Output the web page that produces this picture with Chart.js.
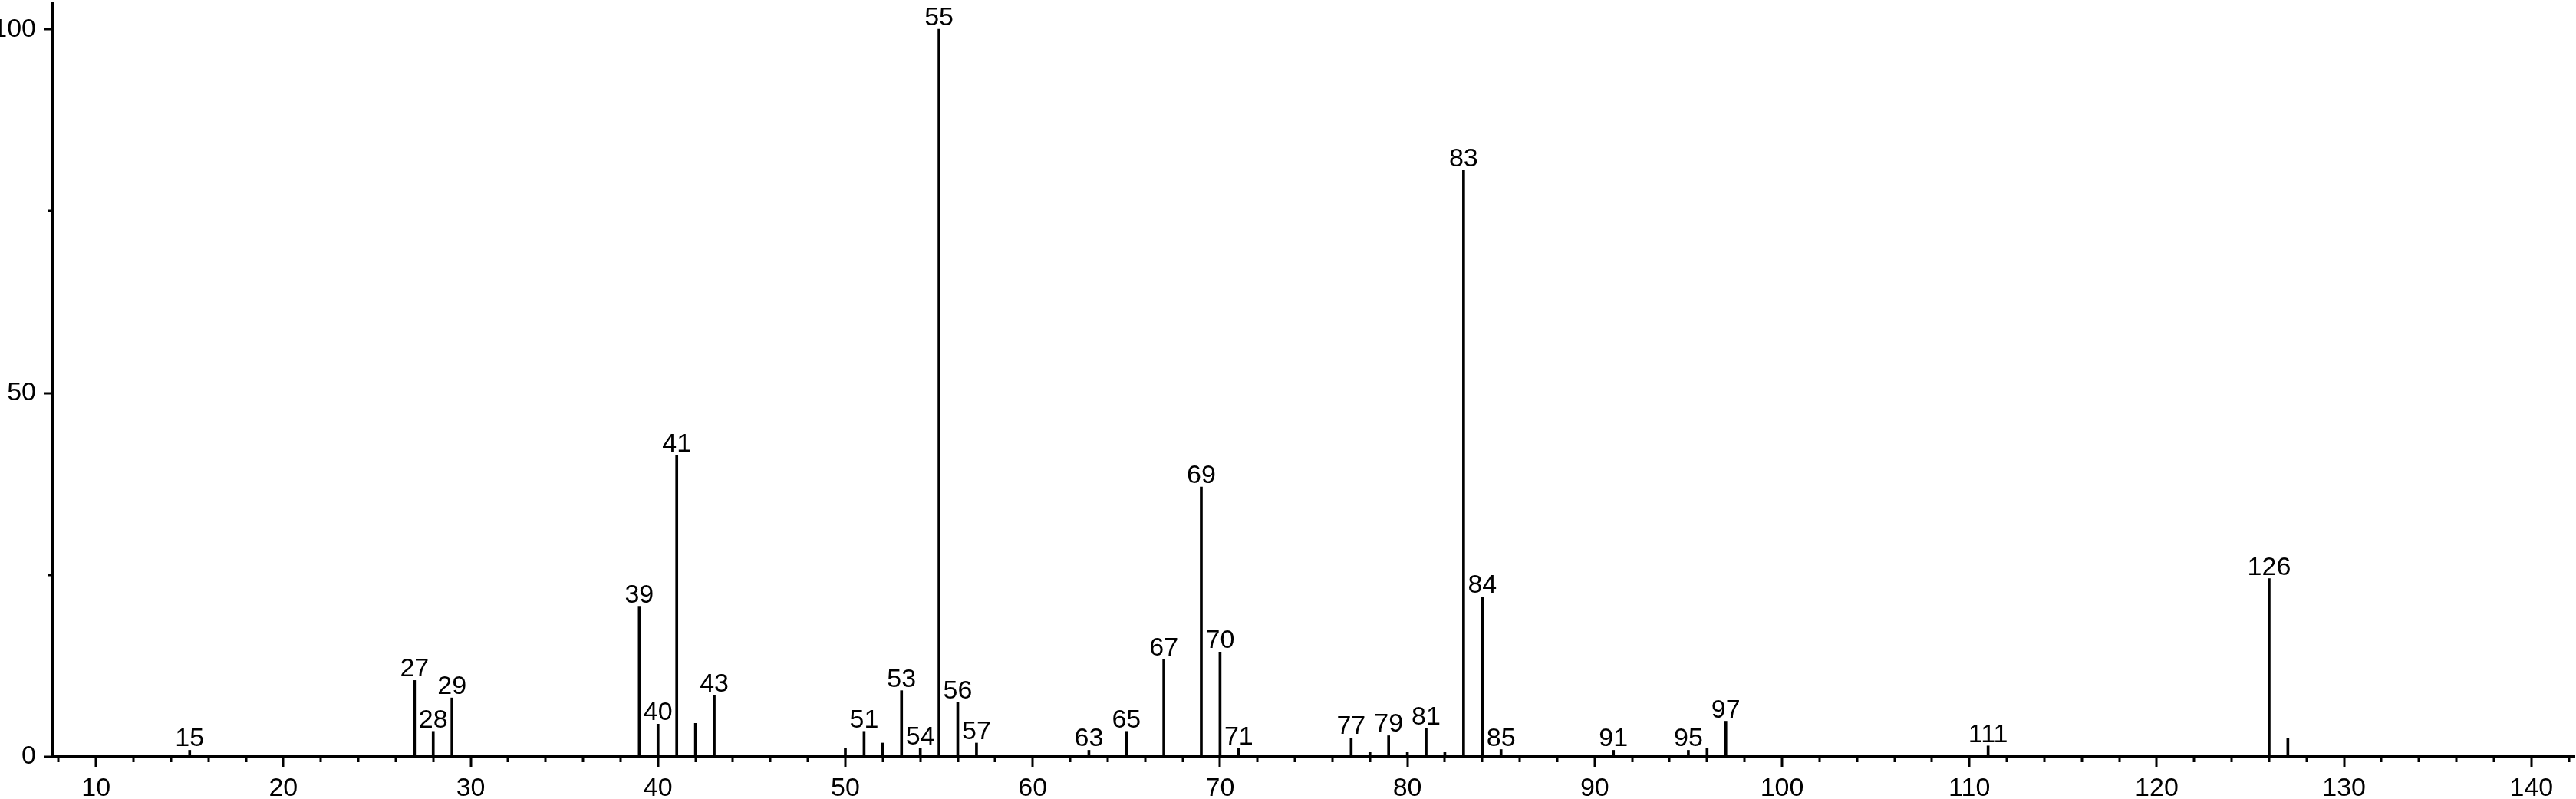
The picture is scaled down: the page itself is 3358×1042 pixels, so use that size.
<!DOCTYPE html>
<html>
<head>
<meta charset="utf-8">
<script src="https://cdn.jsdelivr.net/npm/chart.js@4"></script>
<style>
  html, body { margin: 0; padding: 0; background: #fff; }
  #wrap { width: 3358px; height: 1042px; }
</style>
</head>
<body>
<div id="wrap"><canvas id="msChart"></canvas></div>
<script>
// m/z values and relative intensities
var mzValues = [15, 27, 28, 29, 39, 40, 41, 42, 43, 50, 51, 52, 53, 54, 55, 56, 57,
                63, 65, 67, 69, 70, 71, 77, 78, 79, 80, 81, 82, 83, 84, 85,
                91, 95, 96, 97, 111, 126, 127];
var intensities = [0.9, 10.5, 3.5, 8.1, 20.7, 4.5, 41.4, 4.6, 8.4, 1.2, 3.5, 1.9, 9.1, 1.2, 100, 7.5, 1.9,
                   0.9, 3.5, 13.4, 37.1, 14.4, 1.2, 2.6, 0.6, 2.9, 0.6, 3.9, 0.6, 80.6, 22.0, 1.0,
                   0.9, 0.9, 1.2, 4.9, 1.5, 24.5, 2.5];
// peaks that carry a text label
var labeledPeaks = [15, 27, 28, 29, 39, 40, 41, 43, 51, 53, 54, 55, 56, 57, 63, 65, 67, 69, 70, 71,
                    77, 79, 81, 83, 84, 85, 91, 95, 97, 111, 126];
var xTickLabels = [10, 20, 30, 40, 50, 60, 70, 80, 90, 100, 110, 120, 130, 140];
var yTickLabels = [0, 50, 100];

var FONT = 'Liberation Sans, Arial, sans-serif';

// draws tick marks (major/minor) and the peak labels
var spectrumDecor = {
    id: 'spectrumDecor',
    afterDraw: function(chart) {
        var ctx = chart.ctx;
        var xs = chart.scales.x, ys = chart.scales.y;
        var area = chart.chartArea;
        ctx.save();
        ctx.strokeStyle = '#000';
        ctx.lineWidth = 3;
        ctx.beginPath();
        for (var v = 8; v <= 142; v += 2) {
            var px = Math.round(xs.getPixelForValue(v));
            var len = (v % 10 === 0) ? 13 : 7;
            ctx.moveTo(px, area.bottom);
            ctx.lineTo(px, area.bottom + len);
        }
        for (var t = 0; t <= 100; t += 25) {
            var py = Math.round(ys.getPixelForValue(t));
            var ylen = (t % 50 === 0) ? 12 : 6;
            ctx.moveTo(area.left, py);
            ctx.lineTo(area.left - ylen, py);
        }
        ctx.stroke();

        ctx.fillStyle = '#000';
        ctx.font = '34px ' + FONT;
        ctx.textAlign = 'center';
        ctx.textBaseline = 'alphabetic';
        labeledPeaks.forEach(function(mz) {
            var i = mzValues.indexOf(mz);
            var x = xs.getPixelForValue(mz);
            var y = ys.getPixelForValue(intensities[i]) - 5;
            ctx.fillText(String(mz), x, y);
        });
        ctx.restore();
    }
};

function noEdgePadding(scale) {
    scale.paddingTop = 0;
    scale.paddingBottom = 0;
    scale.paddingLeft = 0;
    scale.paddingRight = 0;
}

var ctx = document.getElementById('msChart').getContext('2d');
var msChart = new Chart(ctx, {
    type: 'bar',
    data: {
        datasets: [{
            data: mzValues.map(function(m, i) { return { x: m, y: intensities[i] }; }),
            backgroundColor: '#000',
            borderWidth: 0,
            barThickness: 3
        }]
    },
    options: {
        responsive: true,
        maintainAspectRatio: false,
        animation: false,
        layout: { padding: { top: 4, right: 2, left: 0, bottom: 0 } },
        plugins: {
            legend: { display: false },
            tooltip: { enabled: false }
        },
        scales: {
            x: {
                type: 'linear',
                min: 7.7,
                max: 142.3,
                offset: false,
                grid: { display: false },
                border: { display: true, color: '#000', width: 3.5 },
                ticks: {
                    stepSize: 10,
                    includeBounds: false,
                    autoSkip: false,
                    maxRotation: 0,
                    padding: 13,
                    color: '#000',
                    font: { family: FONT, size: 34 },
                    callback: function(value) {
                        return xTickLabels.indexOf(value) >= 0 ? String(value) : '';
                    }
                },
                afterFit: function(scale) { scale.height = 55; noEdgePadding(scale); }
            },
            y: {
                min: 0,
                max: 103.6,
                grid: { display: false },
                border: { display: true, color: '#000', width: 3.5 },
                ticks: {
                    stepSize: 25,
                    includeBounds: false,
                    autoSkip: false,
                    padding: 14,
                    color: '#000',
                    font: { family: FONT, size: 34 },
                    callback: function(value) {
                        return yTickLabels.indexOf(value) >= 0 ? String(value) : '';
                    }
                },
                afterFit: function(scale) { scale.width = 69; noEdgePadding(scale); }
            }
        }
    },
    plugins: [spectrumDecor]
});
</script>
</body>
</html>
